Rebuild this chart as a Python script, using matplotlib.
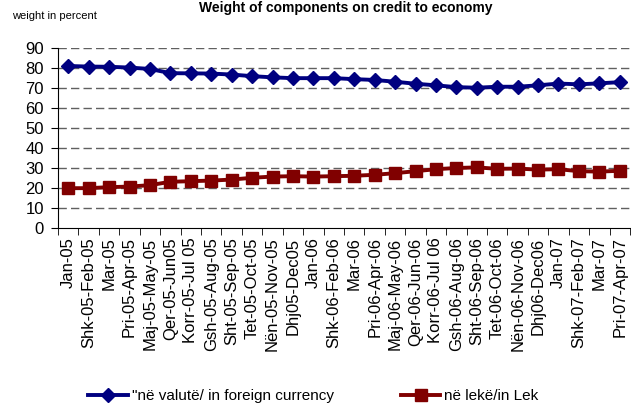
import matplotlib
matplotlib.use("Agg")
import matplotlib.pyplot as plt

plt.rcParams['font.family'] = ['Liberation Sans', 'DejaVu Sans']

# kategorite (muajt)
months = ['Jan-05', 'Shk-05-Feb-05', 'Mar-05', 'Pri-05-Apr-05', 'Maj-05-May-05',
          'Qer-05-Jun05', 'Korr-05-Jul 05', 'Gsh-05-Aug-05', 'Sht-05-Sep-05',
          'Tet-05-Oct-05', 'Nën-05-Nov-05', 'Dhj05-Dec05', 'Jan-06', 'Shk-06-Feb-06',
          'Mar-06', 'Pri-06-Apr-06', 'Maj-06-May-06', 'Qer-06-Jun-06', 'Korr-06-Jul 06',
          'Gsh-06-Aug-06', 'Sht-06-Sep-06', 'Tet-06-Oct-06', 'Nën-06-Nov-06',
          'Dhj06-Dec06', 'Jan-07', 'Shk-07-Feb-07', 'Mar-07', 'Pri-07-Apr-07']

# pesha ne perqindje
foreign = [81.0, 80.7, 80.6, 80.2, 79.5, 77.4, 77.3, 77.2, 76.7, 75.9, 75.3, 74.9,
           74.9, 74.9, 74.4, 74.0, 73.1, 72.1, 71.3, 70.4, 70.1, 70.6, 70.6, 71.3,
           72.2, 71.8, 72.3, 72.9]
lek = [19.8, 19.8, 20.3, 20.6, 21.3, 23.0, 23.3, 23.6, 24.1, 25.0, 25.6, 25.8,
       25.6, 25.8, 26.0, 26.5, 27.3, 28.3, 29.3, 29.9, 30.2, 29.5, 29.6, 29.1,
       29.3, 28.3, 28.1, 28.5]

fig = plt.figure(figsize=(6.31, 4.04), dpi=100)
ax = fig.add_axes([58 / 631, 1 - 227.7 / 404, (630 - 58) / 631, (227.7 - 48) / 404])

x = range(len(months))
ax.plot(x, foreign, color='#000080', lw=2.8, marker='D', markersize=7,
        label='"në valutë/ in foreign currency')
ax.plot(x, lek, color='#800000', lw=2.8, marker='s', markersize=8,
        label='në lekë/in Lek')

ax.set_ylim(0, 90)
ax.set_yticks(range(0, 91, 10))
ax.set_xlim(-0.5, len(months) - 0.5)
ax.set_xticks(range(len(months)))
ax.set_xticklabels(months, rotation=90, fontsize=12)
ax.set_xticks([i - 0.5 for i in range(len(months) + 1)], minor=True)
ax.tick_params(axis='x', which='major', length=0, pad=7)
ax.tick_params(axis='x', which='minor', length=5, direction='out', color='black')
ax.tick_params(axis='y', labelsize=12, length=5, pad=5, direction='out')

# linjat e rrjetit me vija
for v in range(10, 91, 10):
    ax.axhline(v, color='#606060', lw=1.0, dashes=(6, 3), zorder=0)

for s in ['top', 'right']:
    ax.spines[s].set_visible(False)

fig.text(346 / 631, 1 - 8 / 404, 'Weight of components on credit to economy',
         ha='center', va='center', fontsize=10, fontweight='bold')
fig.text(12 / 631, 1 - 16 / 404, 'weight in percent', ha='left', va='center', fontsize=8)

fig.legend(loc='center left', bbox_to_anchor=(88 / 631, 1 - 396 / 404), ncol=2,
           frameon=False, fontsize=11, borderpad=0, handlelength=2.6,
           handletextpad=0.25, columnspacing=4.4, borderaxespad=0)

fig.savefig('out.png', dpi=100)
